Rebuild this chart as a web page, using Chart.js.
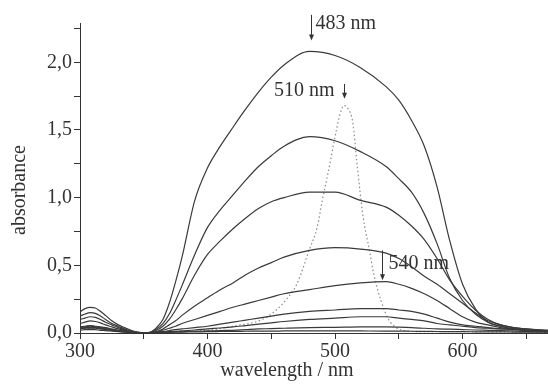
<!DOCTYPE html>
<html lang="en">
<head>
<meta charset="UTF-8" />
<title>absorbance</title>
<script src="https://cdn.jsdelivr.net/npm/chart.js"></script>
<style>
  html, body { margin: 0; padding: 0; background: #fff; }
  canvas { display: block; }
</style>
</head>
<body>
<canvas id="grafico" width="548" height="384"></canvas>
<script>
// wavelength grid (nm) shared by the solid spectra
const wavelengths = [300, 304, 308, 312, 316, 320, 325, 330, 335, 340, 345, 350, 355, 360, 365, 370, 375, 380, 390, 400,
                     410, 420, 430, 440, 450, 460, 480, 500, 520, 540, 550, 560, 570, 580, 590, 600, 610, 620, 630, 640, 650, 667];

// solid spectra, from the largest (483 nm band) down to the smallest
const spec1 = [.155, .18, .19, .185, .16, .13, .09, .06, .04, .02, .007, 0, .005, .04, .10, .22, .38, .56, .98, 1.22,
               1.38, 1.52, 1.655, 1.78, 1.89, 1.98, 2.08, 2.05, 1.96, 1.82, 1.72, 1.57, 1.38, 1.08, .68, .36, .18, .08, .05, .03, .02, .01];
const spec2 = [.125, .14, .15, .145, .125, .10, .07, .05, .03, .015, .005, 0, .005, .03, .07, .14, .24, .35, .58, .78,
               .91, 1.02, 1.13, 1.23, 1.31, 1.38, 1.45, 1.42, 1.34, 1.23, 1.14, 1.04, .88, .66, .40, .24, .14, .08, .05, .03, .02, .01];
const spec3 = [.10, .11, .12, .115, .10, .08, .06, .04, .025, .012, .004, 0, .004, .02, .05, .10, .17, .25, .43, .58,
               .68, .77, .85, .92, .97, 1.00, 1.04, 1.04, .98, .93, .87, .79, .69, .55, .39, .27, .17, .10, .06, .04, .03, .015];
const spec4 = [.07, .08, .09, .085, .075, .06, .045, .03, .02, .01, .003, 0, .003, .01, .03, .06, .09, .13, .20, .26,
               .32, .37, .43, .48, .52, .56, .61, .63, .62, .59, .55, .49, .42, .36, .29, .22, .15, .09, .06, .04, .03, .02];
const spec5 = [.045, .05, .055, .05, .045, .04, .03, .02, .015, .008, .003, 0, .002, .008, .02, .035, .05, .07, .10, .13,
               .16, .19, .215, .24, .265, .29, .32, .35, .37, .38, .36, .33, .29, .24, .18, .12, .08, .06, .04, .03, .02, .015];
const spec6 = [.04, .045, .05, .045, .04, .035, .025, .018, .012, .006, .002, 0, .002, .005, .01, .018, .025, .03, .04, .05,
               .065, .08, .095, .11, .125, .14, .16, .17, .18, .18, .17, .16, .14, .11, .08, .06, .05, .04, .03, .03, .02, .02];
const spec7 = [.035, .04, .04, .04, .035, .03, .022, .015, .01, .005, .002, 0, .001, .003, .006, .01, .013, .016, .022, .03,
               .037, .045, .055, .065, .075, .085, .10, .11, .12, .12, .11, .10, .09, .07, .06, .05, .04, .035, .03, .025, .02, .015];
const spec8 = [.03, .035, .035, .035, .03, .025, .02, .013, .008, .004, .001, 0, 0, .002, .004, .006, .008, .01, .012, .015,
               .018, .02, .025, .03, .032, .035, .04, .042, .045, .045, .043, .04, .035, .03, .028, .025, .022, .02, .018, .015, .012, .01];
const spec9 = [.02, .025, .025, .025, .02, .018, .014, .01, .006, .003, .001, 0, .002, .003, .004, .005, .006, .007, .008, .01,
               .011, .012, .013, .014, .014, .015, .016, .016, .015, .014, .014, .013, .012, .011, .01, .01, .009, .008, .008, .007, .006, .006];

// dotted spectrum (510 nm band)
const dotWavelengths = [300, 310, 320, 330, 340, 350, 370, 400, 420, 443, 454, 462, 470, 480, 486, 490, 496, 500, 504, 507,
                        510, 514, 517, 522, 527, 530, 536, 542, 548, 556, 570, 600, 667];
const dotSpec = [.03, .035, .025, .012, .005, 0, .01, .02, .05, .10, .17, .25, .36, .62, .78, .98, 1.25, 1.45, 1.62, 1.68,
                 1.66, 1.55, 1.27, .86, .61, .45, .24, .10, .04, .015, .01, .01, .005];

const xTitle = 'wavelength / nm';
const yTitle = 'absorbance';
const bandLabels = ['483 nm', '510 nm', '540 nm'];

const solid = [spec1, spec2, spec3, spec4, spec5, spec6, spec7, spec8, spec9];
const datasets = solid.map(function (s) {
    return {
        data: s.map(function (v, i) { return { x: wavelengths[i], y: v }; }),
        borderColor: '#3a3a3a',
        borderWidth: 1.2,
        pointRadius: 0,
        cubicInterpolationMode: 'monotone'
    };
});
datasets.push({
    data: dotSpec.map(function (v, i) { return { x: dotWavelengths[i], y: v }; }),
    borderColor: '#8a8a8a',
    borderWidth: 1.2,
    borderDash: [1.5, 2.5],
    pointRadius: 0,
    cubicInterpolationMode: 'monotone'
});

const fonte = '"Liberation Serif", "Times New Roman", serif';
const cor = '#333';

// arrows, band labels and axis titles
const rotulos = {
    id: 'rotulos',
    afterDraw(chart) {
        const ctx = chart.ctx;
        const sx = chart.scales.x, sy = chart.scales.y;
        ctx.save();
        ctx.fillStyle = cor;
        ctx.strokeStyle = cor;
        ctx.lineWidth = 1;
        ctx.font = '20px ' + fonte;
        ctx.textBaseline = 'middle';

        function seta(nm, a1, a2) {
            const px = Math.round(sx.getPixelForValue(nm)) + 0.5;
            const y1 = sy.getPixelForValue(a1), y2 = sy.getPixelForValue(a2);
            ctx.beginPath(); ctx.moveTo(px, y1); ctx.lineTo(px, y2 - 5); ctx.stroke();
            ctx.beginPath(); ctx.moveTo(px - 2.5, y2 - 6); ctx.lineTo(px + 2.5, y2 - 6); ctx.lineTo(px, y2); ctx.closePath(); ctx.fill();
            return px;
        }

        let px = seta(481, 2.35, 2.16);
        ctx.textAlign = 'left';
        ctx.fillText(bandLabels[0], px + 4, sy.getPixelForValue(2.285));

        px = seta(507, 1.84, 1.73);
        ctx.textAlign = 'right';
        ctx.fillText(bandLabels[1], px - 10, sy.getPixelForValue(1.79));

        px = seta(536.5, 0.61, 0.39);
        ctx.textAlign = 'left';
        ctx.fillText(bandLabels[2], px + 6, sy.getPixelForValue(0.515));

        ctx.textAlign = 'center';
        ctx.fillText(xTitle, 287, 371);
        ctx.translate(20, 190);
        ctx.rotate(-Math.PI / 2);
        ctx.fillText(yTitle, 0, 0);
        ctx.restore();
    }
};

new Chart(document.getElementById('grafico'), {
    type: 'line',
    data: { datasets: datasets },
    options: {
        responsive: false,
        animation: false,
        devicePixelRatio: 1,
        layout: { padding: { top: 23, right: 0, left: 0, bottom: 0 } },
        plugins: { legend: { display: false }, tooltip: { enabled: false } },
        scales: {
            x: {
                type: 'linear',
                min: 300,
                max: 667,
                afterFit: function (s) { s.height = 51; },
                border: { display: true, color: cor, width: 1 },
                grid: { drawOnChartArea: false, tickLength: 6, tickColor: cor },
                ticks: {
                    stepSize: 50,
                    includeBounds: false,
                    autoSkip: false,
                    maxRotation: 0,
                    padding: 1,
                    color: cor,
                    font: { family: fonte, size: 20 },
                    callback: function (v) { return v % 100 === 0 ? String(v) : ''; }
                }
            },
            y: {
                min: 0,
                max: 2.29,
                afterFit: function (s) { s.width = 80; },
                border: { display: true, color: cor, width: 1 },
                grid: { drawOnChartArea: false, tickLength: 6, tickColor: cor },
                ticks: {
                    stepSize: 0.25,
                    includeBounds: false,
                    autoSkip: false,
                    padding: 2,
                    color: cor,
                    font: { family: fonte, size: 20 },
                    callback: function (v) {
                        return Math.abs(v * 2 - Math.round(v * 2)) < 1e-6 ? v.toFixed(1).replace('.', ',') : '';
                    }
                }
            }
        }
    },
    plugins: [rotulos]
});
</script>
</body>
</html>
